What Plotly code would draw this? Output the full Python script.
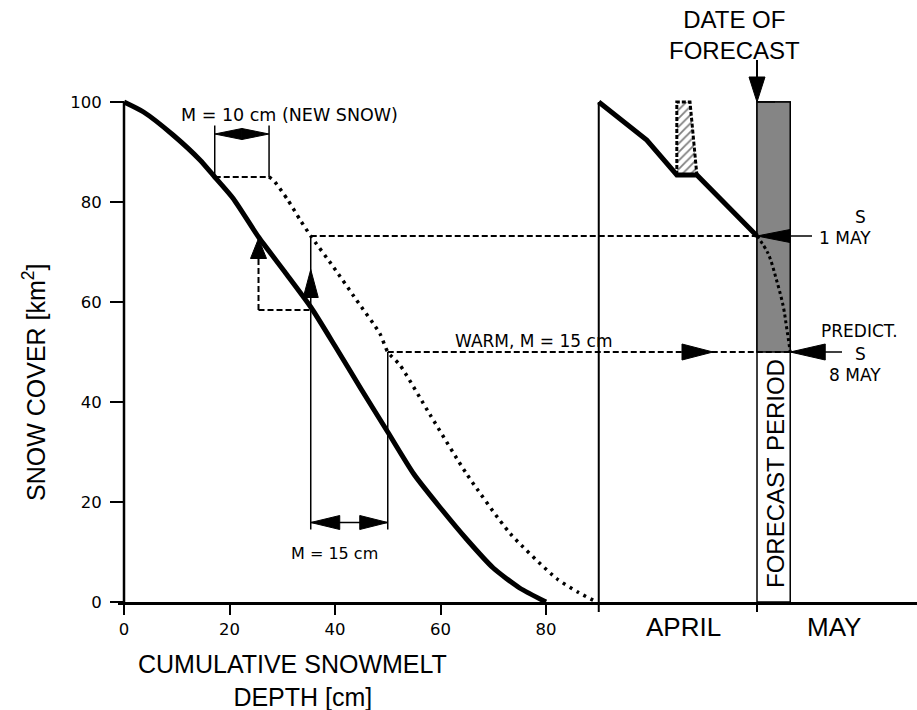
import plotly.graph_objects as go

# ---------------- data ----------------
# normal depletion curve: cumulative snowmelt depth [cm] vs snow cover [km2]
depth_cm = [0, 3.7, 9.3, 14.4, 17.2, 20.7, 25.5, 30.5, 35.4, 40, 45, 50, 55, 60, 65, 70, 75, 80]
cover_km2 = [100, 98, 93.4, 88.4, 85, 80.7, 73, 66, 59, 51.2, 42.5, 34, 25.5, 18.8, 12.5, 6.8, 2.8, 0]

# curve shifted by the new snow (M = 10 cm)
depth_new_cm = [27.5, 28.3, 31, 33.4, 35.4, 39.7, 44, 48.5, 50, 52.3, 58, 64.9, 73.2, 82, 86, 89.6]
cover_new_km2 = [85, 84.4, 80.5, 76.4, 73.2, 67, 60.5, 53.7, 50, 47.4, 37.5, 25.7, 13.7, 4.7, 2, 0]

# observed snow cover in April (time axis placed after depth axis)
april_x = [90, 99.1, 104.8, 108.6, 120]
april_y = [100, 92.4, 85.4, 85.4, 73.2]

# new snow event (hatched)
newsnow_x = [104.8, 104.8, 107.3, 108.6]
newsnow_y = [85.4, 100, 100, 85.4]

# forecast of snow cover during forecast period
forecast_x = [120, 122.1, 123.7, 125, 125.6, 126.3]
forecast_y = [73.2, 69.7, 64.4, 59, 55, 50]

forecast_period = [120, 126.3]
month_separators = [90, 120]
s_1may = 73.2
s_8may = 50
new_snow_from, new_snow_to = 17.2, 27.5      # M = 10 cm
melt_from, melt_to = 35.4, 50               # M = 15 cm

x_tickvals = [0, 20, 40, 60, 80]
y_tickvals = [0, 20, 40, 60, 80, 100]

# ---------------- layout geometry ----------------
W, H = 917, 710
ML, MR, MT, MB = 118, 0, 0, 108
PW, PH = W - ML - MR, H - MT - MB
KX = 5.275          # px per x unit
KY = 5.0            # px per y unit
X0PX = 124          # pixel of x = 0
xr0 = -(X0PX - ML) / KX
xr1 = xr0 + PW / KX
yr1 = PH / KY


def X(px):
    return (px - X0PX) / KX


def Y(py):
    return (H - MB - py) / KY


BLACK = "#000000"
shapes = []


def line(x0, y0, x1, y1, w=1.5, dash=None, layer="above"):
    d = dict(type="line", xref="x", yref="y", x0=x0, y0=y0, x1=x1, y1=y1,
             line=dict(color=BLACK, width=w), layer=layer)
    if dash:
        d["line"]["dash"] = dash
    shapes.append(d)


def head(tx, ty, direction, length_px, half_px):
    if direction == "left":
        bx = tx + length_px / KX
        pts = [(tx, ty), (bx, ty + half_px / KY), (bx, ty - half_px / KY)]
    elif direction == "right":
        bx = tx - length_px / KX
        pts = [(tx, ty), (bx, ty + half_px / KY), (bx, ty - half_px / KY)]
    elif direction == "up":
        by = ty - length_px / KY
        pts = [(tx, ty), (tx - half_px / KX, by), (tx + half_px / KX, by)]
    else:  # down
        by = ty + length_px / KY
        pts = [(tx, ty), (tx - half_px / KX, by), (tx + half_px / KX, by)]
    path = "M {},{} L {},{} L {},{} Z".format(*[v for p in pts for v in p])
    shapes.append(dict(type="path", xref="x", yref="y", path=path,
                       fillcolor=BLACK, line=dict(color=BLACK, width=1)))


DASH = "6px,3px"

# y axis line and month separator
line(0, 0, 0, 100, w=2.5)
line(month_separators[0], 0, month_separators[0], 100, w=2)
# unlabeled ticks at the month separators (below the x axis)
for sep in month_separators:
    shapes.append(dict(type="line", xref="x", yref="paper", x0=sep, x1=sep, y0=0, y1=-10 / PH,
                       line=dict(color=BLACK, width=2)))

# forecast period bar
shapes.append(dict(type="rect", xref="x", yref="y", x0=forecast_period[0], x1=forecast_period[1],
                   y0=0, y1=100, fillcolor="white", line=dict(color=BLACK, width=1.5), layer="below"))
shapes.append(dict(type="rect", xref="x", yref="y", x0=forecast_period[0], x1=forecast_period[1],
                   y0=s_8may, y1=100, fillcolor="#858585", line=dict(color=BLACK, width=1.5), layer="below"))

# M = 10 cm (new snow) marker
line(new_snow_from, 85, new_snow_from, 95.3, w=1.5)
line(new_snow_to, 85, new_snow_to, 95.3, w=1.5)
line(new_snow_from, 85, new_snow_to, 85, w=2, dash=DASH)
mid = (new_snow_from + new_snow_to) / 2
head(new_snow_from, 93.6, "left", (mid - new_snow_from) * KX, 5.5)
head(new_snow_to, 93.6, "right", (new_snow_to - mid) * KX, 5.5)

# dashed L with up arrow at x = 25.5
line(25.5, 58.4, melt_from, 58.4, w=2, dash=DASH)
line(25.5, 58.4, 25.5, 68.8, w=2, dash=DASH)
head(25.5, 72.7, "up", 20, 8)

# verticals and M = 15 cm marker
line(melt_from, 14.5, melt_from, s_1may, w=1.5)
line(melt_to, 14.5, melt_to, s_8may, w=1.5)
head(melt_from, 66.5, "up", 28, 7.5)
line(melt_from, 15.9, melt_to, 15.9, w=1.5)
head(melt_from, 15.9, "left", 29, 7)
head(melt_to, 15.9, "right", 28, 7)

# dashed projection lines
line(melt_from, s_1may, forecast_period[0], s_1may, w=2, dash=DASH)
line(melt_to, s_8may, forecast_period[1], s_8may, w=2, dash=DASH)
head(X(713), s_8may, "right", 31, 8)

# 1 MAY and 8 MAY pointers
head(forecast_period[0], s_1may, "left", 33, 6.5)
line(forecast_period[1], s_1may, X(812), s_1may, w=1.5)
head(forecast_period[1], s_8may, "left", 35, 8)
line(forecast_period[1], s_8may, X(842), s_8may, w=1.5)

# date of forecast arrow
line(forecast_period[0], Y(60), forecast_period[0], 104, w=2)
head(forecast_period[0], 100, "down", 25, 8)
line(forecast_period[0], 100, X(775), 100, w=1.2)

# ---------------- traces ----------------
fig = go.Figure()
fig.add_trace(go.Scatter(x=depth_cm, y=cover_km2, mode="lines",
                         line=dict(color=BLACK, width=5, shape="spline", smoothing=0.6), hoverinfo="skip"))
fig.add_trace(go.Scatter(x=depth_new_cm, y=cover_new_km2, mode="lines",
                         line=dict(color=BLACK, width=3.5, dash="3px,5px", shape="spline", smoothing=0.6),
                         hoverinfo="skip"))
fig.add_trace(go.Scatter(x=newsnow_x, y=newsnow_y, mode="lines", fill="toself",
                         fillcolor="white",
                         fillpattern=dict(shape="/", fgcolor=BLACK, bgcolor="white", size=6, solidity=0.3),
                         line=dict(color=BLACK, width=3, dash="4px,2px"), hoverinfo="skip"))
fig.add_trace(go.Scatter(x=april_x, y=april_y, mode="lines",
                         line=dict(color=BLACK, width=5), hoverinfo="skip"))
fig.add_trace(go.Scatter(x=forecast_x, y=forecast_y, mode="lines",
                         line=dict(color=BLACK, width=3, dash="3px,3px", shape="spline"), hoverinfo="skip"))

# ---------------- text ----------------
SMALL = "DejaVu Sans"
BIG = "Liberation Sans"
ann = []


def text(t, px, py, size, family, angle=0):
    ann.append(dict(text=t, x=(px - ML) / PW, y=(H - MB - py) / PH, xref="paper", yref="paper",
                    showarrow=False, xanchor="center", yanchor="middle", textangle=angle,
                    font=dict(family=family, size=size, color=BLACK)))


text("M = 10 cm (NEW SNOW)", 289, 114.5, 17.5, SMALL)
text("M = 15 cm", 334, 553.5, 16, SMALL)
text("WARM, M = 15 cm", 533, 341, 17, SMALL)
text("S", 860, 217, 17, SMALL)
text("1 MAY", 845, 237.5, 17, SMALL)
text("PREDICT.", 859, 331, 17, SMALL)
text("S", 860, 354, 17, SMALL)
text("8 MAY", 855, 375, 17, SMALL)
text("DATE OF<br>FORECAST", 734, 35, 24, BIG)
text("APRIL", 683, 627, 26, BIG)
text("MAY", 834, 627, 26, BIG)
text("FORECAST PERIOD", 776, 474, 24, BIG, angle=-90)
text("CUMULATIVE SNOWMELT<br>&nbsp;&nbsp;&nbsp;DEPTH [cm]", 292, 680, 25, BIG)
text("SNOW COVER [km<sup>2</sup>]", 34, 382, 25, BIG, angle=-90)

fig.update_layout(
    width=W, height=H,
    margin=dict(l=ML, r=MR, t=MT, b=MB),
    paper_bgcolor="white", plot_bgcolor="white",
    showlegend=False,
    shapes=shapes,
    annotations=ann,
    xaxis=dict(range=[xr0, xr1], showgrid=False, zeroline=False, automargin=False,
               showline=True, linecolor=BLACK, linewidth=2.5,
               tickmode="array", tickvals=x_tickvals,
               ticks="outside", ticklen=10, tickwidth=2, tickcolor=BLACK,
               tickfont=dict(family=SMALL, size=16.5, color=BLACK)),
    yaxis=dict(range=[0, yr1], showgrid=False, zeroline=False, showline=False, automargin=False,
               anchor="free", position=(X0PX - ML) / PW,
               tickmode="array", tickvals=y_tickvals,
               ticks="outside", ticklen=14, tickwidth=2, tickcolor=BLACK, ticklabelstandoff=5,
               tickfont=dict(family=SMALL, size=16.5, color=BLACK)),
)

fig.write_html("out.html", config={"displayModeBar": False},
               post_script="document.body.style.margin='0px';")
